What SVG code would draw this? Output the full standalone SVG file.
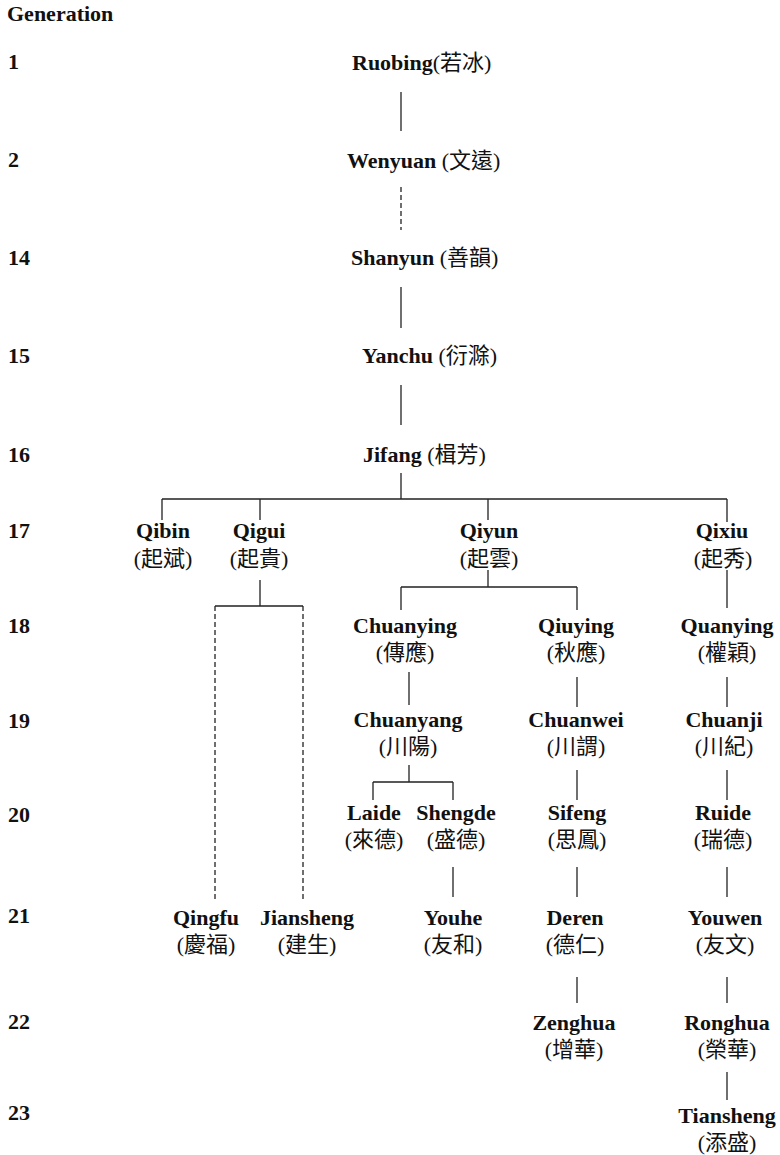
<svg xmlns="http://www.w3.org/2000/svg" width="780" height="1155" viewBox="0 0 780 1155">
<style>
text{font-family:"Liberation Serif","Noto Sans CJK TC",serif;font-size:22px;fill:#111}
.b{font-weight:bold}
.zh{font-weight:normal}
.n text{text-anchor:middle}
.ln{stroke:#222;stroke-width:1.3;fill:none}
.ds{stroke:#222;stroke-width:1.3;fill:none;stroke-dasharray:5 3}
</style>
<rect width="780" height="1155" fill="#fff"/>
<g id="generations" class="b">
<text class="b" x="7" y="21">Generation</text>
<text class="b" x="8" y="69">1</text>
<text class="b" x="8" y="167">2</text>
<text class="b" x="8" y="265">14</text>
<text class="b" x="8" y="363">15</text>
<text class="b" x="8" y="462">16</text>
<text class="b" x="8" y="538">17</text>
<text class="b" x="8" y="633">18</text>
<text class="b" x="8" y="728">19</text>
<text class="b" x="8" y="822">20</text>
<text class="b" x="8" y="923">21</text>
<text class="b" x="8" y="1029">22</text>
<text class="b" x="8" y="1120">23</text>
</g>
<g id="connectors">
<path class="ln" d="M401 92V131"/>
<path class="ds" d="M401 187V230"/>
<path class="ln" d="M401 287V328"/>
<path class="ln" d="M401 385V425"/>
<path class="ln" d="M401 473V499M162 499H727M162 499V520M260 499V520M488 499V520M727 499V522"/>
<path class="ln" d="M260 580V606H303M215 606H260"/>
<path class="ds" d="M215 606V900M303 606V900"/>
<path class="ln" d="M488 570V587M401 587H577M401 587V610M577 587V610"/>
<path class="ln" d="M727 570V608"/>
<path class="ln" d="M409 672V705"/>
<path class="ln" d="M577 677V707"/>
<path class="ln" d="M727 677V707"/>
<path class="ln" d="M409 765V782M373 782H453M373 782V800M453 782V800"/>
<path class="ln" d="M577 770V800"/>
<path class="ln" d="M727 770V800"/>
<path class="ln" d="M453 867V897"/>
<path class="ln" d="M577 867V897"/>
<path class="ln" d="M727 867V897"/>
<path class="ln" d="M577 977V1003"/>
<path class="ln" d="M727 977V1003"/>
<path class="ln" d="M727 1072V1100"/>
</g>
<g id="ruobing"><text class="b" x="352" y="70">Ruobing<tspan class="zh">(若冰)</tspan></text></g>
<g id="wenyuan"><text class="b" x="347" y="168">Wenyuan <tspan class="zh">(文遠)</tspan></text></g>
<g id="shanyun"><text class="b" x="351" y="265">Shanyun <tspan class="zh">(善韻)</tspan></text></g>
<g id="yanchu"><text class="b" x="362" y="363">Yanchu <tspan class="zh">(衍滁)</tspan></text></g>
<g id="jifang"><text class="b" x="363" y="462">Jifang <tspan class="zh">(楫芳)</tspan></text></g>
<g class="n">
<g id="qibin"><text class="b" x="163" y="538">Qibin</text><text class="zh" x="163" y="566">(起斌)</text></g>
<g id="qigui"><text class="b" x="259" y="538">Qigui</text><text class="zh" x="259" y="566">(起貴)</text></g>
<g id="qiyun"><text class="b" x="489" y="538">Qiyun</text><text class="zh" x="489" y="566">(起雲)</text></g>
<g id="qixiu"><text class="b" x="722" y="538">Qixiu</text><text class="zh" x="723" y="566">(起秀)</text></g>
<g id="chuanying"><text class="b" x="405" y="633">Chuanying</text><text class="zh" x="405" y="660">(傳應)</text></g>
<g id="qiuying"><text class="b" x="576" y="633">Qiuying</text><text class="zh" x="576" y="660">(秋應)</text></g>
<g id="quanying"><text class="b" x="727" y="633">Quanying</text><text class="zh" x="727" y="660">(權穎)</text></g>
<g id="chuanyang"><text class="b" x="408" y="727">Chuanyang</text><text class="zh" x="408" y="754">(川陽)</text></g>
<g id="chuanwei"><text class="b" x="576" y="727">Chuanwei</text><text class="zh" x="576" y="754">(川謂)</text></g>
<g id="chuanji"><text class="b" x="724" y="727">Chuanji</text><text class="zh" x="724" y="754">(川紀)</text></g>
<g id="laide"><text class="b" x="374" y="820">Laide</text><text class="zh" x="374" y="847">(來德)</text></g>
<g id="shengde"><text class="b" x="456" y="820">Shengde</text><text class="zh" x="456" y="847">(盛德)</text></g>
<g id="sifeng"><text class="b" x="577" y="820">Sifeng</text><text class="zh" x="577" y="847">(思鳳)</text></g>
<g id="ruide"><text class="b" x="723" y="820">Ruide</text><text class="zh" x="723" y="847">(瑞德)</text></g>
<g id="qingfu"><text class="b" x="206" y="925">Qingfu</text><text class="zh" x="206" y="952">(慶福)</text></g>
<g id="jiansheng"><text class="b" x="307" y="925">Jiansheng</text><text class="zh" x="307" y="952">(建生)</text></g>
<g id="youhe"><text class="b" x="453" y="925">Youhe</text><text class="zh" x="453" y="952">(友和)</text></g>
<g id="deren"><text class="b" x="575" y="925">Deren</text><text class="zh" x="575" y="952">(德仁)</text></g>
<g id="youwen"><text class="b" x="725" y="925">Youwen</text><text class="zh" x="725" y="952">(友文)</text></g>
<g id="zenghua"><text class="b" x="574" y="1030">Zenghua</text><text class="zh" x="574" y="1057">(增華)</text></g>
<g id="ronghua"><text class="b" x="727" y="1030">Ronghua</text><text class="zh" x="727" y="1057">(榮華)</text></g>
<g id="tiansheng"><text class="b" x="727" y="1123">Tiansheng</text><text class="zh" x="727" y="1150">(添盛)</text></g>
</g>
</svg>
